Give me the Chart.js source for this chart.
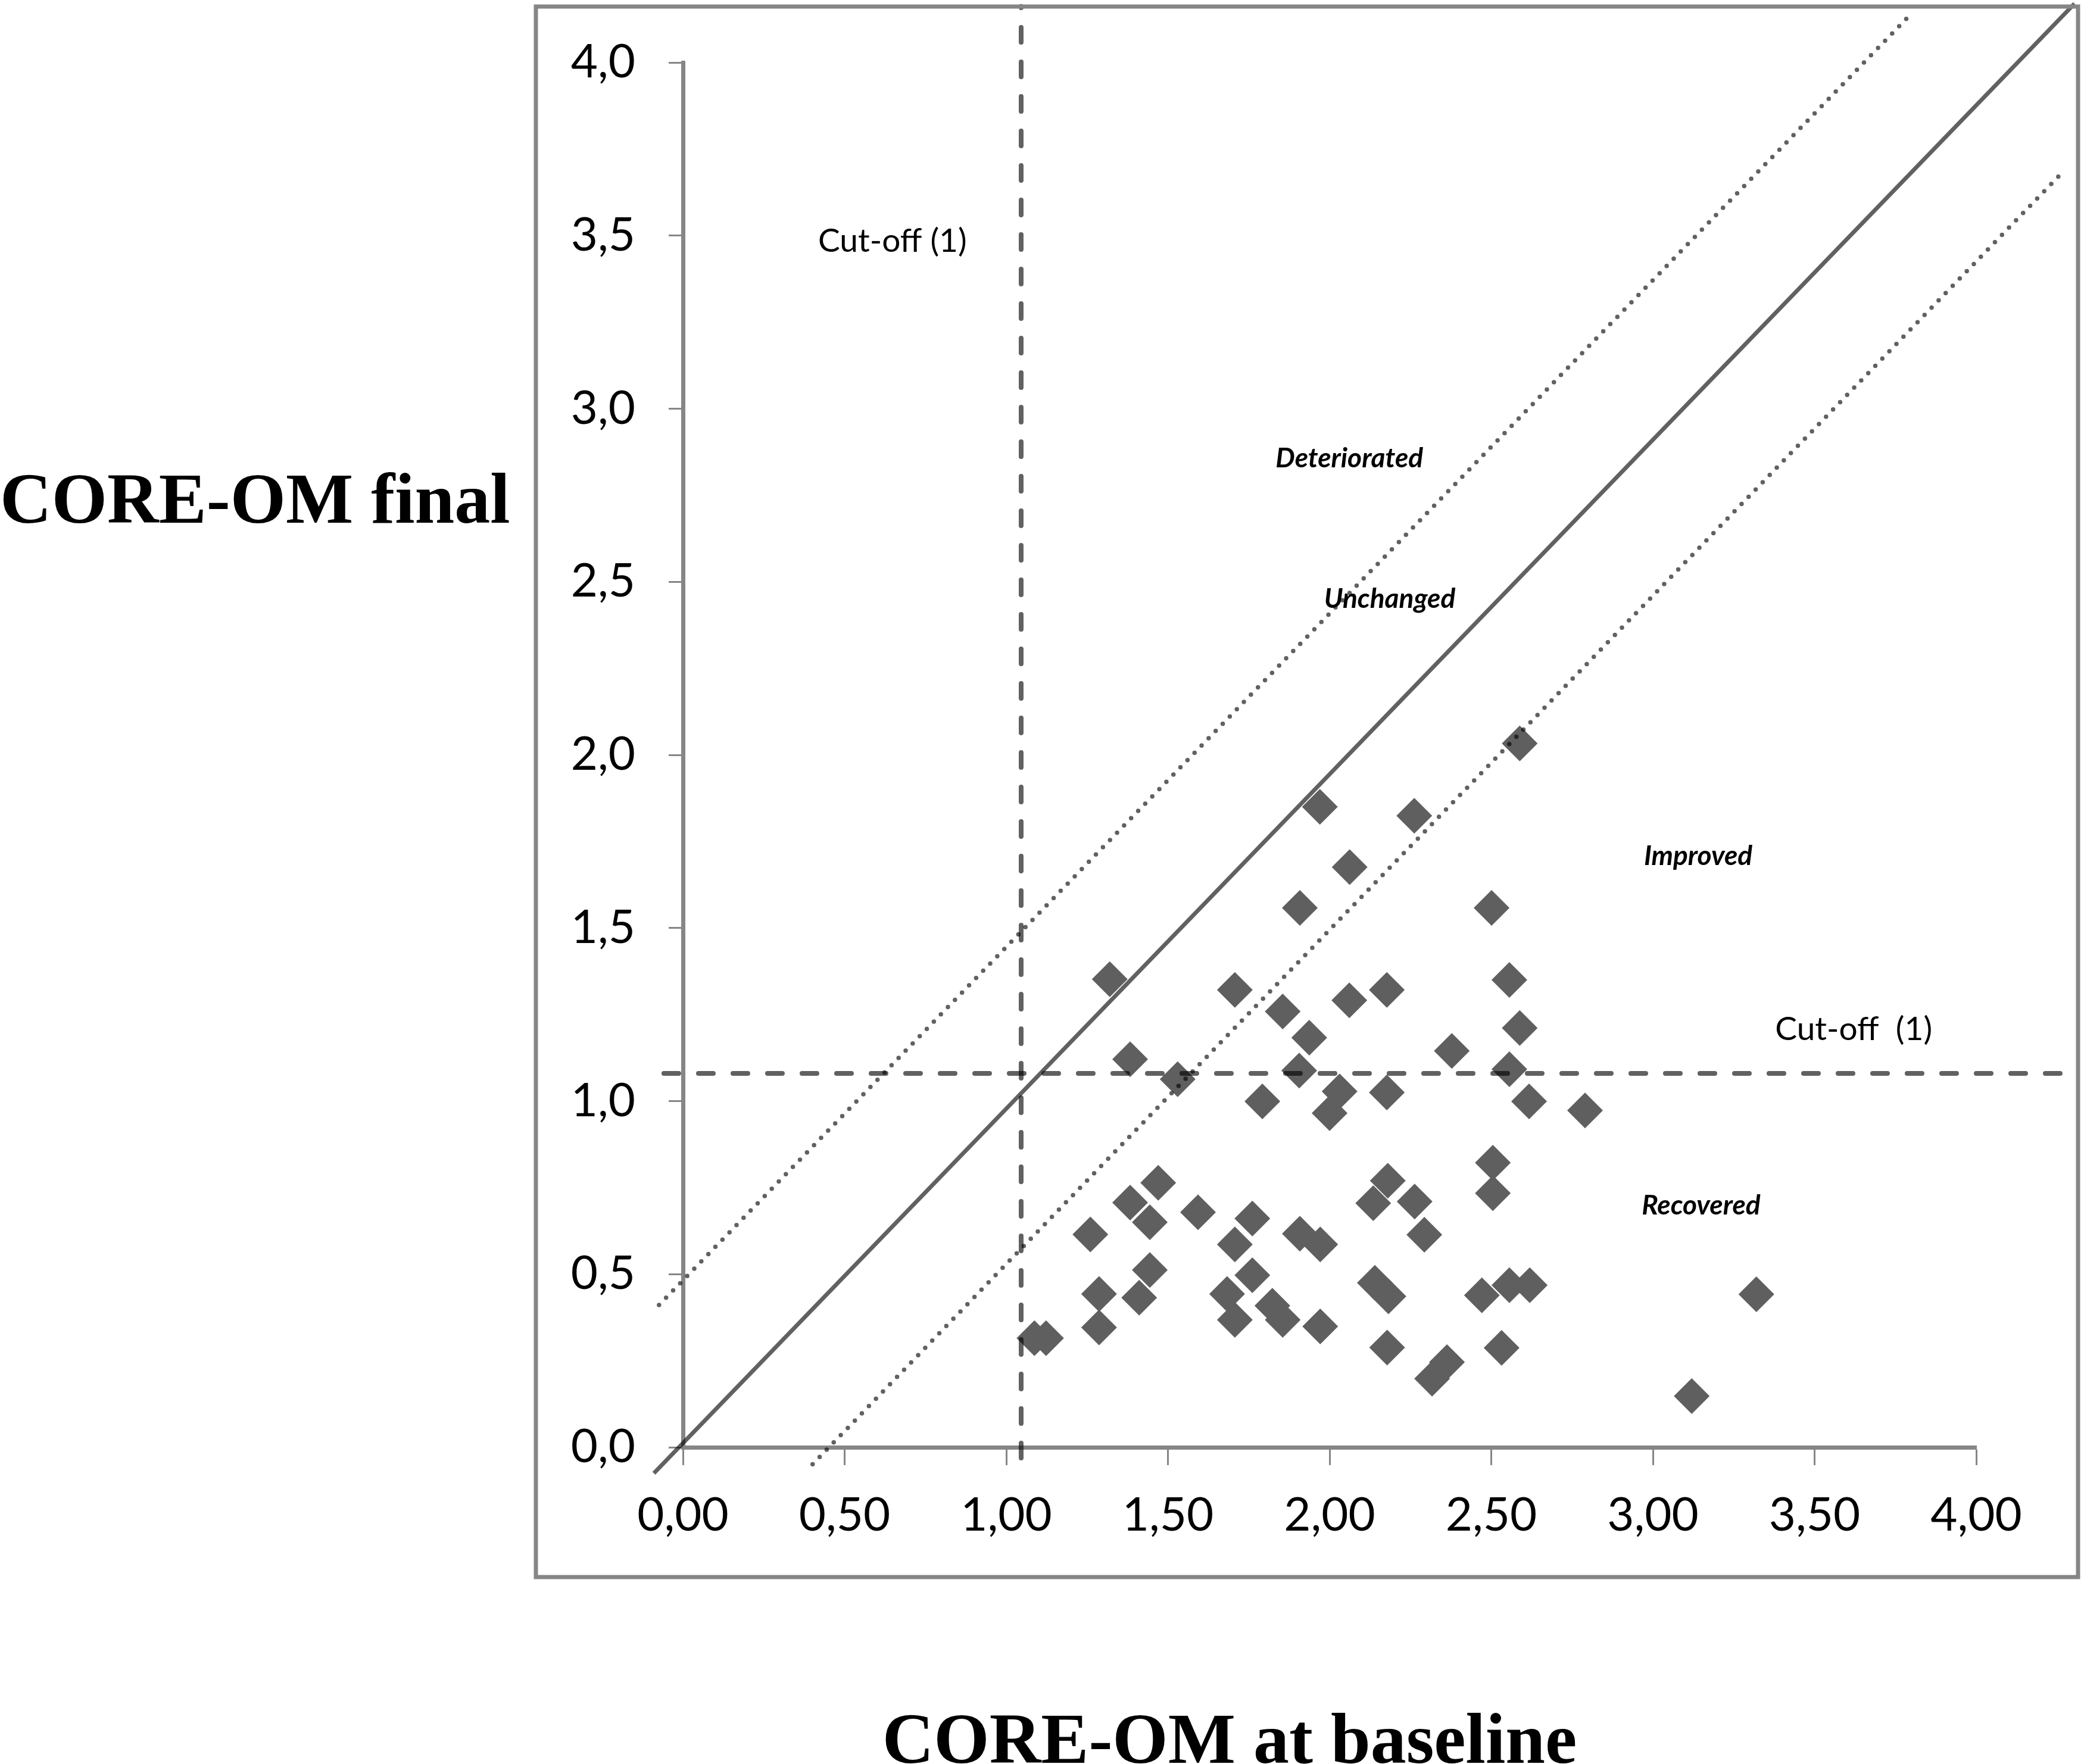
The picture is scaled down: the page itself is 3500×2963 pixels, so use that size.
<!DOCTYPE html>
<html>
<head>
<meta charset="utf-8">
<script src="https://cdn.jsdelivr.net/npm/chart.js@4.4.1/dist/chart.umd.min.js"></script>
<style>
  html, body { margin: 0; padding: 0; background: #fff; }
  canvas { display: block; }
</style>
</head>
<body>
<canvas id="chart" width="3500" height="2963"></canvas>
<script>
// CORE-OM score per patient: at baseline (x) and at the end (y)
const baselineScores = [
    1.320, 1.383, 1.530, 1.707, 1.855, 1.937, 1.908, 1.970, 2.062, 2.262,
    2.588, 2.061, 2.177, 2.501, 2.556, 2.588, 2.378, 1.906, 1.792, 2.031,
    2.000, 2.177, 2.556, 2.617, 2.790, 2.505, 2.505, 1.260, 1.383, 1.470,
    1.444, 1.593, 1.761, 1.707, 1.908, 1.971, 2.180, 2.135, 2.263, 2.293,
    1.287, 1.444, 1.411, 1.683, 1.761, 1.707, 1.823, 1.855, 1.971, 1.287,
    1.087, 1.123, 2.140, 2.182, 2.178, 2.317, 2.363, 2.471, 2.556, 2.619,
    2.532, 3.320, 3.120
];
const finalScores = [
    1.352, 1.121, 1.063, 1.321, 1.259, 1.183, 1.558, 1.850, 1.676, 1.824,
    2.033, 1.291, 1.321, 1.558, 1.350, 1.211, 1.145, 1.088, 0.999, 1.028,
    0.965, 1.025, 1.092, 0.999, 0.973, 0.822, 0.734, 0.615, 0.707, 0.764,
    0.650, 0.679, 0.661, 0.586, 0.617, 0.586, 0.770, 0.705, 0.710, 0.614,
    0.443, 0.512, 0.432, 0.443, 0.497, 0.368, 0.409, 0.368, 0.349, 0.346,
    0.315, 0.315, 0.475, 0.436, 0.288, 0.198, 0.246, 0.439, 0.468, 0.468,
    0.287, 0.442, 0.148
];

// axis ticks
const xTickStep = 0.5;
const yTickStep = 0.5;

// clinical cut-off (1) on both scales
const cutoffBaseline = 1.046;
const cutoffFinal = 1.080;
const cutoffLineX = [-0.059, 4.315];   // horizontal cut-off runs between these x values
const cutoffLineY = [-0.031, 4.162];   // vertical cut-off runs between these y values

// no-change diagonal and reliable-change band (end points as drawn)
const diagonalX = [-0.090, 4.304];
const diagonalY = [-0.075, 4.170];
const upperBandX = [-0.074, 3.794];
const upperBandY = [0.411, 4.136];
const lowerBandX = [0.401, 4.266];
const lowerBandY = [-0.049, 3.682];

// labels written inside the plot, anchored in data units
const zoneNames = ['Deteriorated', 'Unchanged', 'Improved', 'Recovered'];
const zoneX = [2.061, 2.186, 3.140, 3.149];
const zoneY = [2.856, 2.451, 1.708, 0.698];
const cutoffNames = ['Cut-off (1)', 'Cut-off  (1)'];
const cutoffNameX = [0.648, 3.621];
const cutoffNameY = [3.484, 1.207];

const yTitle = 'CORE-OM final';
const xTitle = 'CORE-OM at baseline';

const axisGrey = '#868686';
const lineGrey = 'rgba(0, 0, 0, 0.62)';
const pointGrey = '#5f5f5f';

function toPoints(xs, ys) {
    return xs.map((x, i) => ({ x: x, y: ys[i] }));
}

const points = toPoints(baselineScores, finalScores);

function refLine(data, width, dash, cap) {
    return {
        type: 'line',
        data: data,
        borderColor: lineGrey,
        borderWidth: width,
        borderDash: dash,
        borderCapStyle: cap,
        pointRadius: 0,
        fill: false,
        clip: false,
        order: 0
    };
}

const decorPlugin = {
    id: 'decor',
    beforeDraw(chart) {
        const ctx = chart.ctx;
        ctx.save();
        ctx.fillStyle = '#ffffff';
        ctx.fillRect(0, 0, chart.width, chart.height);
        ctx.restore();
    },
    afterDraw(chart) {
        const ctx = chart.ctx;
        const xs = chart.scales.x;
        const ys = chart.scales.y;
        ctx.save();

        // outer chart frame
        ctx.strokeStyle = axisGrey;
        ctx.lineWidth = 7;
        ctx.strokeRect(900, 11, 2590, 2638);

        ctx.fillStyle = '#000';
        ctx.textAlign = 'center';
        ctx.textBaseline = 'middle';

        ctx.font = '55px Lato';
        cutoffNames.forEach((t, i) => {
            ctx.fillText(t, xs.getPixelForValue(cutoffNameX[i]), ys.getPixelForValue(cutoffNameY[i]));
        });

        ctx.font = 'italic bold 46px Lato';
        zoneNames.forEach((t, i) => {
            ctx.fillText(t, xs.getPixelForValue(zoneX[i]), ys.getPixelForValue(zoneY[i]));
        });

        // axis titles
        ctx.font = 'bold 120px "Liberation Serif"';
        ctx.textBaseline = 'alphabetic';
        ctx.textAlign = 'left';
        ctx.fillText(yTitle, 0, 878);
        ctx.textAlign = 'center';
        ctx.fillText(xTitle, 2065, 2961);

        ctx.restore();
    }
};

const chart = new Chart(document.getElementById('chart').getContext('2d'), {
    type: 'scatter',
    data: {
        datasets: [
            refLine(toPoints(diagonalX, diagonalY), 7, [], 'butt'),
            refLine(toPoints(upperBandX, upperBandY), 7.5, [0, 17], 'round'),
            refLine(toPoints(lowerBandX, lowerBandY), 7.5, [0, 17], 'round'),
            refLine(toPoints(cutoffLineX, [cutoffFinal, cutoffFinal]), 8, [25, 33], 'round'),
            refLine(toPoints([cutoffBaseline, cutoffBaseline], cutoffLineY), 8, [25, 33], 'round'),
            {
                label: 'Patients',
                data: points,
                pointStyle: 'rectRot',
                pointRadius: 30,
                pointHoverRadius: 30,
                backgroundColor: pointGrey,
                borderColor: pointGrey,
                borderWidth: 0,
                order: 1
            }
        ]
    },
    options: {
        responsive: false,
        devicePixelRatio: 1,
        animation: false,
        events: [],
        layout: {
            padding: { top: 105, right: 181, left: 0, bottom: 0 }
        },
        plugins: {
            legend: { display: false },
            tooltip: { enabled: false }
        },
        scales: {
            x: {
                type: 'linear',
                min: 0,
                max: 4,
                afterFit(scale) { scale.height = 532; },
                ticks: {
                    stepSize: xTickStep,
                    autoSkip: false,
                    maxRotation: 0,
                    padding: 38,
                    color: '#000',
                    font: { family: 'Lato', size: 78 },
                    callback: v => v.toFixed(2).replace('.', ',')
                },
                grid: {
                    drawOnChartArea: false,
                    drawTicks: true,
                    tickLength: 30,
                    tickWidth: 3,
                    tickColor: axisGrey
                },
                border: { display: true, color: axisGrey, width: 7 }
            },
            y: {
                type: 'linear',
                min: 0,
                max: 4,
                afterFit(scale) { scale.width = 1147; },
                ticks: {
                    stepSize: yTickStep,
                    autoSkip: false,
                    padding: 56,
                    color: '#000',
                    font: { family: 'Lato', size: 78 },
                    callback: v => v.toFixed(1).replace('.', ',')
                },
                grid: {
                    drawOnChartArea: false,
                    drawTicks: true,
                    tickLength: 24,
                    tickWidth: 3,
                    tickColor: axisGrey
                },
                border: { display: true, color: axisGrey, width: 7 }
            }
        }
    },
    plugins: [decorPlugin]
});
</script>
</body>
</html>
